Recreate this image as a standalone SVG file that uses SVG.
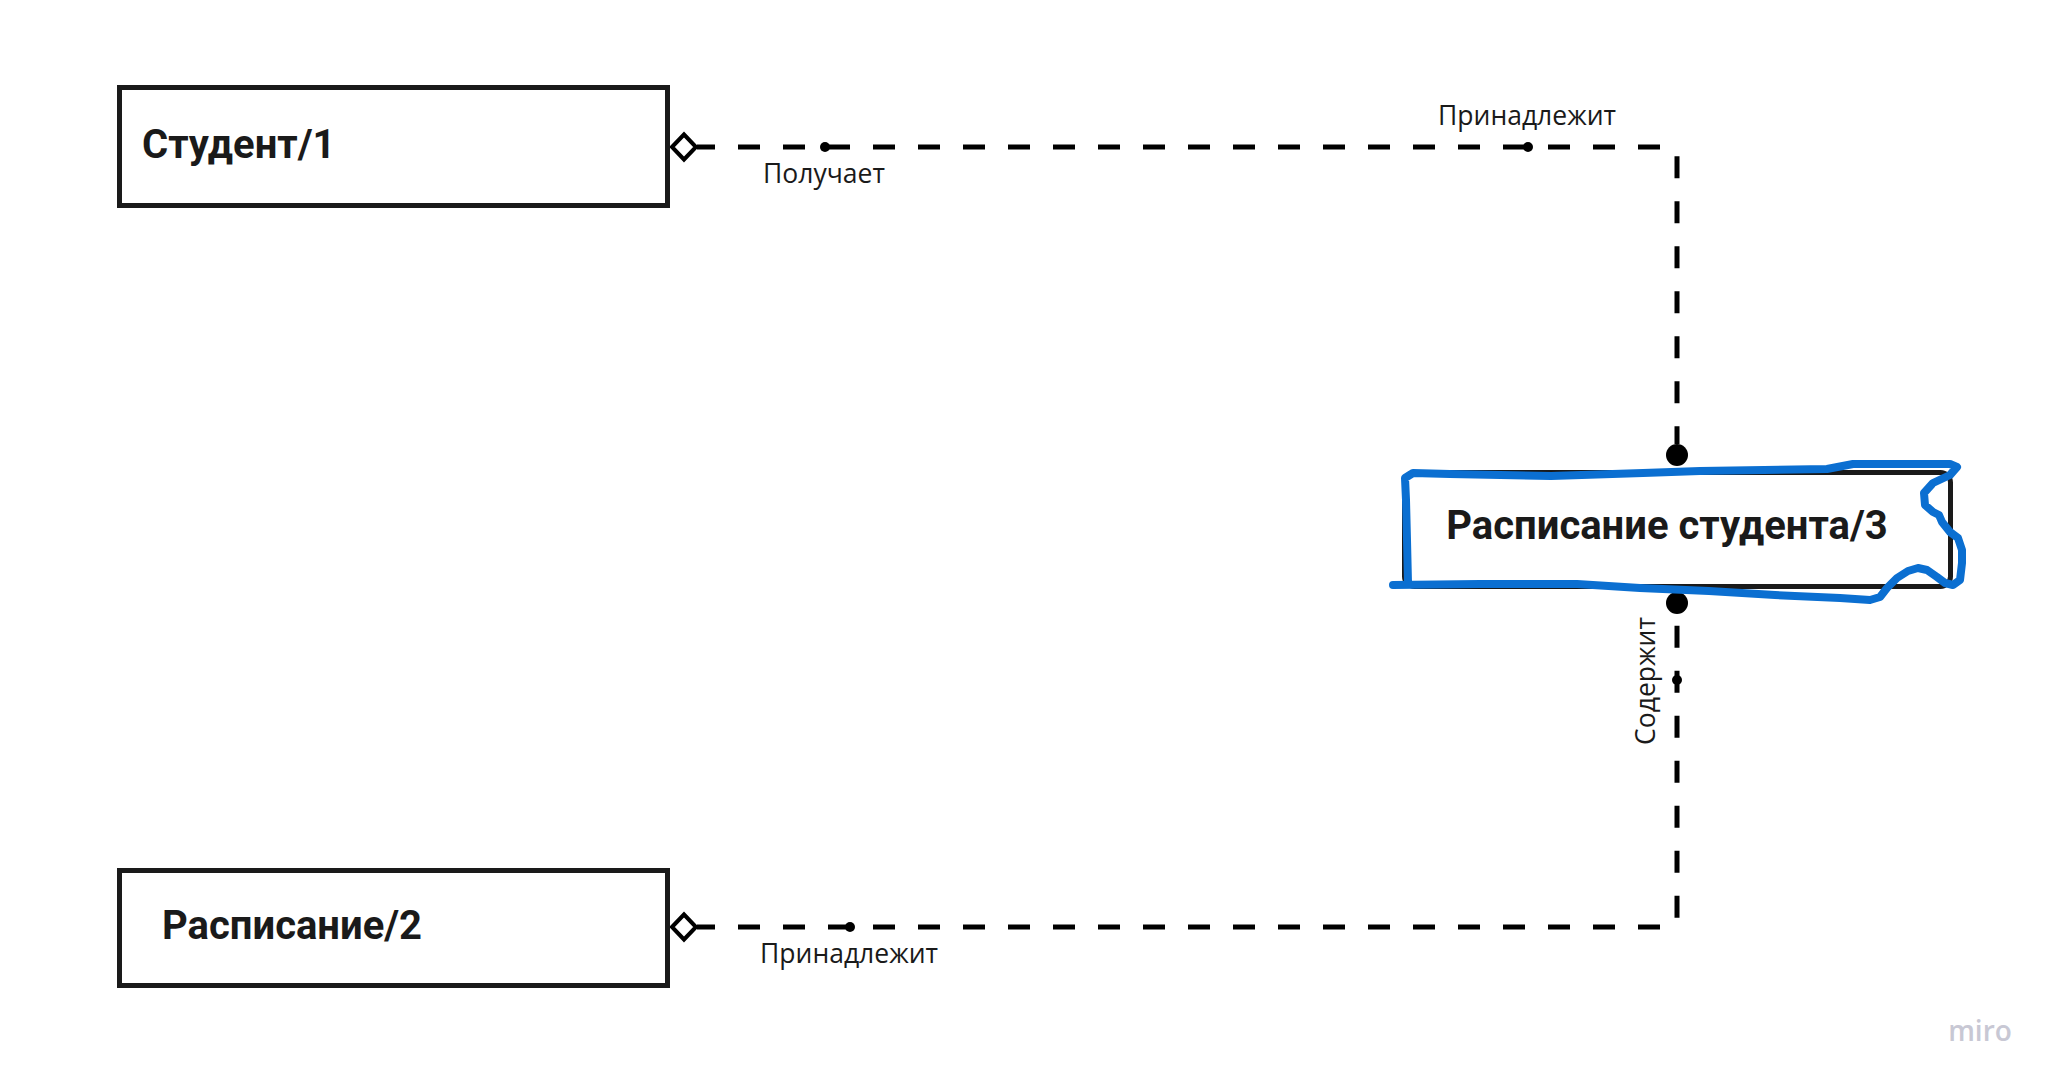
<svg xmlns="http://www.w3.org/2000/svg" width="2061" height="1091" viewBox="0 0 2061 1091">
  <style>
    .box { fill: #ffffff; stroke: #1a1a1a; stroke-width: 5; }
    .title { font-family: Roboto, "Liberation Sans", sans-serif; font-weight: 700; font-size: 40px; fill: #1a1a1a; }
    .lbl { font-family: "Open Sans", "Noto Sans", sans-serif; font-size: 26.5px; fill: #1a1a1a; }
    .conn { fill: none; stroke: #000000; stroke-width: 5; stroke-dasharray: 22 23; stroke-dashoffset: 4; }
    .pt { fill: #000000; }
    .scribble { fill: none; stroke: #0b6fd1; stroke-width: 8; stroke-linecap: round; stroke-linejoin: round; }
    .logo { font-family: "Open Sans", "Noto Sans", sans-serif; font-weight: 600; font-size: 28px; fill: #c8c8d4; }
  </style>
  <defs>
    <marker id="diamond" markerUnits="userSpaceOnUse" viewBox="-16 -17 32 34" markerWidth="32" markerHeight="34" refX="13" refY="0" orient="auto">
      <polygon points="-12,0 0,-12.5 12,0 0,12.5" fill="#ffffff" stroke="#000000" stroke-width="4"/>
    </marker>
    <marker id="bigdot" markerUnits="userSpaceOnUse" viewBox="-12 -12 24 24" markerWidth="24" markerHeight="24" refX="-11" refY="0" orient="auto">
      <circle cx="0" cy="0" r="11" fill="#000000"/>
    </marker>
  </defs>
  <rect width="2061" height="1091" fill="#ffffff"/>

  <g id="connectors">
    <path class="conn" d="M697,147 H1669 Q1677,147 1677,155 V444" marker-start="url(#diamond)" marker-end="url(#bigdot)"/>
    <circle class="pt" cx="825" cy="147" r="5"/>
    <circle class="pt" cx="1528" cy="147" r="5"/>
    <text class="lbl" x="824" y="183" text-anchor="middle">Получает</text>
    <text class="lbl" x="1527" y="125" text-anchor="middle">Принадлежит</text>

    <path class="conn" d="M697,927 H1669 Q1677,927 1677,919 V614" marker-start="url(#diamond)" marker-end="url(#bigdot)"/>
    <circle class="pt" cx="850" cy="927" r="5"/>
    <circle class="pt" cx="1677" cy="680" r="5"/>
    <text class="lbl" x="849" y="963" text-anchor="middle">Принадлежит</text>
    <text class="lbl" transform="translate(1655,681) rotate(-90)" x="0" y="0" text-anchor="middle">Содержит</text>
  </g>

  <g id="node1">
    <rect class="box" x="119.5" y="87.5" width="548" height="118"/>
    <text class="title" x="142" y="158">Студент/1</text>
  </g>

  <g id="node2">
    <rect class="box" x="119.5" y="870.5" width="548" height="115"/>
    <text class="title" x="162" y="939">Расписание/2</text>
  </g>

  <g id="node3">
    <rect class="box" x="1404.5" y="472.5" width="546" height="114" rx="10" ry="10"/>
    <text class="title" x="1667" y="539" text-anchor="middle">Расписание студента/3</text>
  </g>

  <path class="scribble" d="M1393,585 L1480,584 L1577,584 L1640,588 L1709,591 L1775,595 L1840,598 L1870,600 L1880,597 L1887,588 L1897,578 L1908,571 L1918,568 L1927,570 L1937,577 L1945,583 L1953,585 L1960,580 L1962,563 L1962,550 L1958,538 L1950,532 L1942,522 L1939,515 L1933,512 L1925,505 L1924,493 L1933,483 L1950,475 L1957,467 L1950,464 L1900,464 L1853,464 L1827,469 L1700,471 L1643,473 L1551,476 L1450,474 L1413,473 L1405,478 L1406,500 L1407,540 L1408,583"/>

  <text class="logo" x="1980" y="1041" text-anchor="middle">miro</text>
</svg>
